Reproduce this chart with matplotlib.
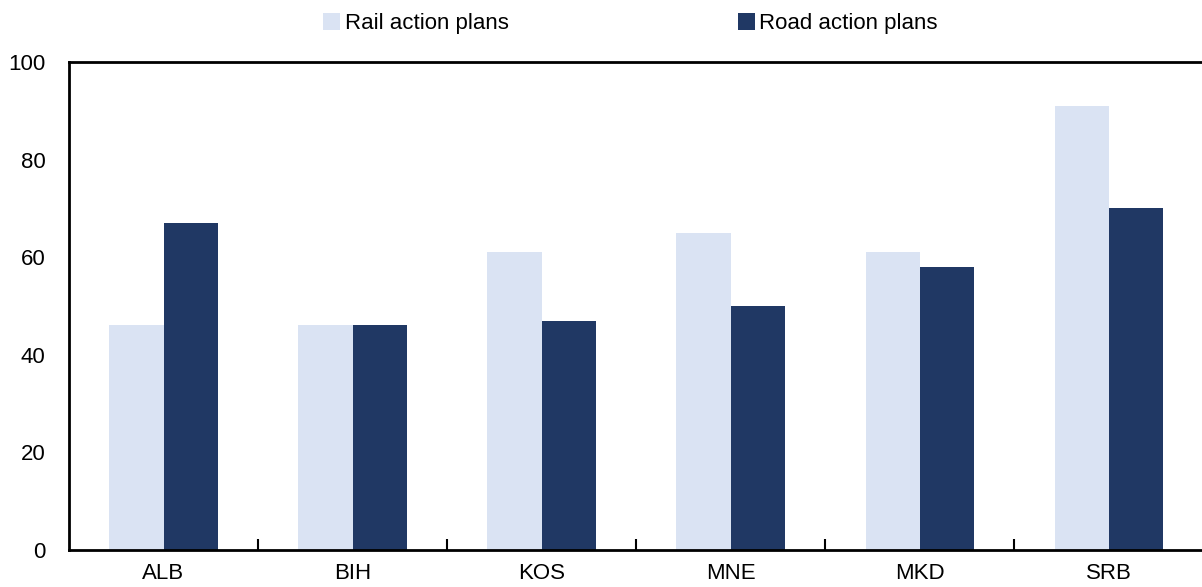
import numpy as np
import matplotlib.pyplot as plt
from matplotlib.ticker import FixedLocator

plt.rcParams['font.family'] = ['Liberation Sans', 'DejaVu Sans']

countries = ['ALB', 'BIH', 'KOS', 'MNE', 'MKD', 'SRB']
rail = [46, 46, 61, 65, 61, 91]
road = [67, 46, 47, 50, 58, 70]

rail_color = '#dae3f3'
road_color = '#203864'

fig = plt.figure(figsize=(12.02, 5.87), dpi=100)
ax = fig.add_axes([0.0574, 0.063, 0.9435, 0.8315])

x = np.arange(len(countries))
w = 0.286
ax.bar(x - w / 2, rail, width=w, color=rail_color, label='Rail action plans')
ax.bar(x + w / 2, road, width=w, color=road_color, label='Road action plans')

ax.set_xlim(-0.5, len(countries) - 0.5)
ax.set_ylim(0, 100)
ax.set_yticks(np.arange(0, 101, 20))
ax.set_xticks(x)
ax.set_xticklabels(countries)
# boundary ticks between countries, pointing inward
ax.xaxis.set_minor_locator(FixedLocator(np.arange(0.5, len(countries) - 1, 1)))

ax.tick_params(axis='y', length=0, pad=17, labelsize=16)
ax.tick_params(axis='x', which='major', length=0, pad=9, labelsize=16)
ax.tick_params(axis='x', which='minor', direction='in', length=8, width=1.5)

for side in ['left', 'top', 'bottom']:
    ax.spines[side].set_linewidth(2)
ax.spines['right'].set_visible(False)

fig.legend(loc='upper center', bbox_to_anchor=(0.5245, 1.012), ncol=2, frameon=False,
           fontsize=16, handlelength=0.77, handleheight=0.77, handletextpad=0.2,
           columnspacing=10.3)

fig.savefig('out.png', dpi=100)
